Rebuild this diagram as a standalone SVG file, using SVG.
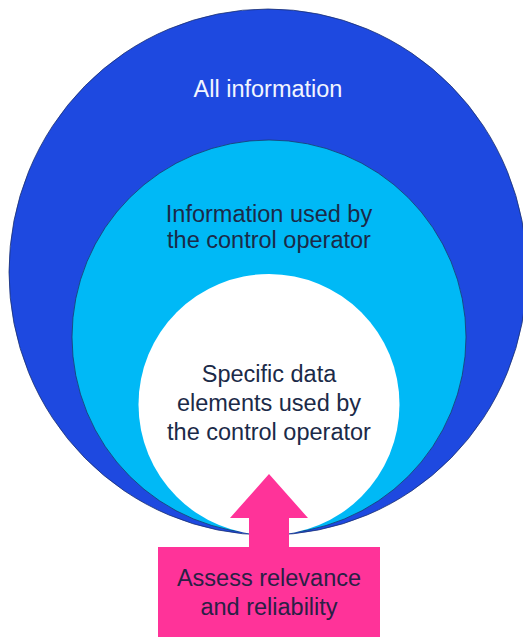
<svg xmlns="http://www.w3.org/2000/svg" width="523" height="637" viewBox="0 0 523 637">
<style>
.t{font-family:"Liberation Sans",Arial,sans-serif;font-size:23.5px;text-anchor:middle}
.dark{fill:#1b2a48}
</style>
<rect width="523" height="637" fill="#ffffff"/>
<g id="all-information">
<ellipse cx="268" cy="272" rx="259" ry="263" fill="#1e49e0" stroke="#1a3070" stroke-width="0.8"/>
<text class="t" x="268" y="97" fill="#f2f5ff">All information</text>
</g>
<g id="used-information">
<circle cx="269" cy="337" r="197" fill="#00b9f6" stroke="#1a3a6a" stroke-width="0.8"/>
<text class="t dark" x="269" y="222">Information used by</text>
<text class="t dark" x="269" y="248">the control operator</text>
</g>
<g id="specific-data">
<circle cx="269" cy="404.5" r="130.5" fill="#ffffff"/>
<text class="t dark" x="269" y="382">Specific data</text>
<text class="t dark" x="269" y="411">elements used by</text>
<text class="t dark" x="269" y="440">the control operator</text>
</g>
<g id="connectors">
<polygon points="269,474 308,518 289,518 289,548 249,548 249,518 230,518" fill="#ff3399"/>
</g>
<g id="assess">
<rect x="158" y="547" width="222" height="90" fill="#ff3399"/>
<text class="t" x="269" y="586" fill="#2a2045">Assess relevance</text>
<text class="t" x="269" y="615" fill="#2a2045">and reliability</text>
</g>
</svg>
